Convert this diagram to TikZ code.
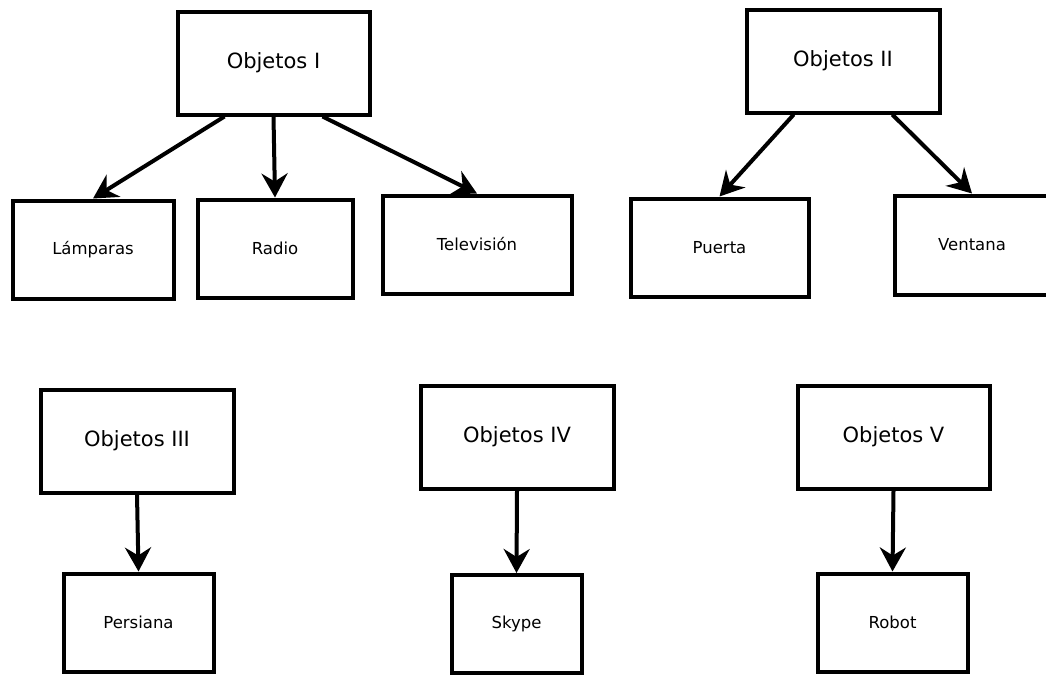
\documentclass[tikz,border=0pt]{standalone}
\usepackage{fontspec}
\setmainfont{DejaVu Sans}
\usetikzlibrary{arrows.meta,calc}
\begin{document}
\begin{tikzpicture}[x=1pt,y=-1pt,
  big/.style={draw,line width=4pt,inner sep=0pt,minimum width=193pt,minimum height=103pt,font=\fontsize{21}{25}\selectfont},
  small/.style={draw,line width=4pt,inner sep=0pt,minimum height=98pt,font=\fontsize{16.5}{20}\selectfont},
  conn/.style={line width=4pt,-{Stealth[length=24pt,width=26pt,inset=8pt]}}]
\useasboundingbox (0,0) rectangle (1046,675);
% group I
\node[big,minimum width=192pt] (o1) at (273.5,63) {Objetos I};
\node[small,minimum width=161pt] (lam) at (93,249.5) {Lámparas};
\node[small,minimum width=155pt] (rad) at (275,248.5) {Radio};
\node[small,minimum width=189pt] (tel) at (477,244.5) {Televisión};
\draw[conn] ($(o1.south west)!0.25!(o1.south east)$) -- (lam.north);
\draw[conn] (o1.south) -- (rad.north);
\draw[conn] ($(o1.south west)!0.75!(o1.south east)$) -- (tel.north);
% group II
\node[big] (o2) at (843,61) {Objetos II};
\node[small,minimum width=178pt] (pue) at (719.5,247.5) {Puerta};
\node[small,minimum width=155pt,minimum height=99pt] (ven) at (972,245) {Ventana};
\draw[conn] ($(o2.south west)!0.25!(o2.south east)$) -- (pue.north);
\draw[conn] ($(o2.south west)!0.75!(o2.south east)$) -- (ven.north);
% group III
\node[big] (o3) at (137,441) {Objetos III};
\node[small,minimum width=150pt] (per) at (138.5,622.5) {Persiana};
\draw[conn] (o3.south) -- (per.north);
% group IV
\node[big] (o4) at (517,437) {Objetos IV};
\node[small,minimum width=130pt] (sky) at (516.5,624) {Skype};
\draw[conn] (o4.south) -- (sky.north);
% group V
\node[big,minimum width=192pt] (o5) at (893.5,437) {Objetos V};
\node[small,minimum width=150pt] (rob) at (892.5,622.5) {Robot};
\draw[conn] (o5.south) -- (rob.north);
\end{tikzpicture}
\end{document}
